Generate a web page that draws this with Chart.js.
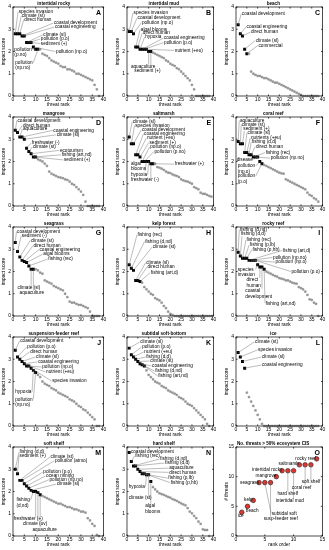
<!DOCTYPE html>
<html lang="en">
<head>
<meta charset="UTF-8">
<title>Threat rank vs impact score</title>
<script src="https://cdn.jsdelivr.net/npm/chart.js@4"></script>
<style>
    html, body { margin: 0; padding: 0; background: #fff; }
    #fig { position: relative; width: 329px; height: 550px; overflow: hidden; }
    #fig canvas { position: absolute; }
</style>
</head>
<body>
<div id="fig"></div>
<script>
// ---- axis ticks ----
const rankTicks = [0, 5, 10, 15, 20, 25, 30, 35, 40];
const scoreTicks = [0, 1, 2, 3, 4];
const orderTicks = [0, 5, 10, 15];

// ---- impact scores by threat rank (rank 1 first) ----
const rockyScores = [2.8, 2.8, 2.8, 2.7, 2.7, 2.4, 2.4, 2.4, 2.2, 2.1, 2.1, 2.1, 1.9, 1.85, 1.8, 1.7, 1.6, 1.55, 1.5, 1.45, 1.35, 1.3, 1.3, 1.2, 1.2, 1.15, 1.1, 1.0, 1.0, 0.95, 0.9, 0.85, 0.8, 0.75, 0.7, 0.5, 0.3, 0];
const mudScores = [2.9, 2.9, 2.8, 2.2, 2.2, 2.1, 2.1, 2.1, 2.1, 2.0, 2.0, 1.95, 1.9, 1.85, 1.8, 1.75, 1.7, 1.6, 1.55, 1.45, 1.4, 1.35, 1.25, 1.2, 1.1, 1.0, 0.9, 0.8, 0.7, 0.5, 0.3, 0, 0, 0, 0, 0, 0, 0];
const beachScores = [3.2, 2.8, 2.7, 2.1, 1.9, 1.9, 1.1, 1.0, 0.95, 0.9, 0.9, 0.85, 0.8, 0.8, 0.75, 0.7, 0.65, 0.6, 0.6, 0.55, 0.5, 0.45, 0.4, 0.35, 0.3, 0.25, 0.2, 0.15, 0.1, 0.05, 0, 0, 0, 0, 0, 0, 0, 0];
const mangroveScores = [3.4, 3.3, 3.1, 3.1, 3.0, 2.6, 2.45, 2.35, 2.2, 2.2, 2.1, 2.05, 2.0, 1.9, 1.8, 1.55, 1.45, 1.4, 1.35, 1.3, 1.28, 1.25, 1.2, 1.17, 1.1, 1.0, 0.95, 0.85, 0.75, 0.65, 0.5, 0.2, 0, 0, 0, 0, 0, 0];
const saltmarshScores = [3.1, 2.8, 2.8, 2.3, 2.3, 2.2, 2.0, 2.0, 2.0, 2.0, 1.9, 1.9, 1.9, 1.75, 1.72, 1.68, 1.62, 1.55, 1.5, 1.48, 1.42, 1.38, 1.35, 1.3, 1.2, 1.15, 1.12, 1.1, 1.05, 1.0, 0.85, 0.8, 0.75, 0.6, 0.55, 0.55, 0.5, 0.45, 0.42];
const coralScores = [2.9, 2.8, 2.8, 2.4, 2.4, 2.3, 2.3, 2.2, 2.2, 2.2, 2.0, 1.9, 1.85, 1.8, 1.75, 1.7, 1.65, 1.6, 1.55, 1.5, 1.47, 1.45, 1.2, 1.15, 1.1, 1.05, 1.0, 0.95, 0.9, 0.85, 0.8, 0.75, 0.6, 0.5, 0.45, 0.35, 0.3, 0.2];
const seagrassScores = [3.3, 2.9, 2.65, 2.5, 2.45, 2.4, 2.25, 2.1, 2.1, 2.1, 2.05, 1.95, 1.9, 1.6, 1.55, 1.5, 1.45, 1.35, 1.3, 1.25, 1.2, 1.15, 1.0, 0.85, 0.65, 0.6, 0.6, 0.55, 0.5, 0.5, 0.45, 0.4, 0.35, 0.2, 0, 0, 0, 0];
const kelpScores = [2.3, 2.15, 2.05, 1.6, 1.6, 1.55, 1.5, 1.3, 1.2, 1.1, 1.0, 0.95, 0.8, 0.75, 0.7, 0.6, 0.45, 0.35, 0.2, 0.1, 0.05, 0, 0, 0, 0, 0, 0, 0, 0, 0, 0, 0, 0, 0, 0, 0, 0, 0, 0];
const reefScores = [2.87, 2.7, 2.6, 2.6, 2.6, 2.5, 2.5, 2.5, 2.5, 2.3, 2.2, 2.2, 2.1, 2.0, 1.95, 1.9, 1.85, 1.8, 1.77, 1.7, 1.68, 1.65, 1.6, 1.6, 1.55, 1.5, 1.47, 1.45, 1.3, 1.25, 1.2, 1.1, 0.95, 0.75, 0.72, 0.6, 0.55, 0];
const suspScores = [3.4, 3.1, 3.0, 2.9, 2.8, 2.7, 2.7, 2.6, 2.5, 2.4, 2.3, 2.2, 2.0, 1.9, 1.85, 1.8, 1.7, 1.65, 1.6, 1.5, 1.45, 1.4, 1.35, 1.3, 1.2, 1.15, 1.1, 1.0, 0.9, 0.85, 0.75, 0.7, 0.6, 0.5, 0.4, 0.3, 0, 0];
const subtidalScores = [3.5, 3.2, 3.1, 3.0, 2.9, 2.8, 2.75, 2.7, 2.5, 2.3, 2.2, 2.1, 2.0, 1.95, 1.9, 1.8, 1.75, 1.7, 1.6, 1.55, 1.5, 1.45, 1.4, 1.3, 1.25, 1.2, 1.1, 1.0, 0.95, 0.9, 0.8, 0.7, 0.6, 0.5, 0.4, 0.3, 0.1, 0];
const iceScores = [3.3, 3.1, 2.9, 2.6, 1.5, 1.3, 1.1, 0.9, 0.7, 0.5, 0.3, 0.1, 0, 0, 0, 0, 0, 0, 0, 0, 0, 0, 0, 0, 0, 0, 0, 0, 0, 0, 0, 0, 0, 0, 0, 0, 0, 0];
const softShelfScores = [3.0, 2.8, 2.5, 2.5, 2.35, 2.25, 2.15, 2.05, 2.0, 2.0, 1.95, 1.85, 1.8, 1.75, 1.7, 1.65, 1.6, 1.55, 1.5, 1.45, 1.45, 1.4, 1.35, 1.3, 1.3, 1.25, 1.2, 1.2, 1.15, 1.1, 1.1, 1.05, 0.8, 0.7, 0.55, 0.45, 0.05, 0];
const hardShelfScores = [3.75, 3.35, 3.15, 3.15, 3.0, 2.9, 2.8, 2.8, 2.75, 2.75, 2.45, 2.2, 2.1, 2.0, 1.92, 1.88, 1.85, 1.8, 1.76, 1.72, 1.66, 1.62, 1.58, 1.52, 1.47, 1.42, 1.38, 1.25, 1.1, 1.02, 0.9, 0.8, 0.65, 0.55, 0.3, 0.27, 0.27, 0];

// ---- named top threats (black points), in rank order ----
const rockyThreats = ['species invasion', 'climate (st)', 'direct human', 'coastal development', 'coastal engineering', 'climate (sl)', 'pollution (p.o)', 'sediment (+)', 'pollution (np.o)', 'pollution\n(p.no)', 'pollution\n(np.no)'];
const mudThreats = ['species invasion', 'coastal development', 'pollution (np.o)', 'algal blooms', 'direct human', 'hypoxia', 'coastal engineering', 'pollution (p.o)', 'nutrient (+eu)', 'aquaculture', 'sediment (+)'];
const beachThreats = ['coastal development', 'coastal engineering', 'direct human', 'climate (sl)', 'commercial'];
const mangroveThreats = ['coastal development', 'direct human', 'aquaculture', 'coastal engineering', 'climate (sl)', 'freshwater (-)', 'climate (st)', 'ecotourism', 'fishing (art,nd)', 'sediment (+)'];
const saltmarshThreats = ['climate (sl)', 'species invasion', 'coastal development', 'coastal engineering', 'nutrient (+eu)', 'sediment (+)', 'pollution (np.o)', 'pollution (p.no)', 'algal\nblooms', 'hypoxia', 'freshwater (-)', 'freshwater (+)'];
const coralThreats = ['aquaculture', 'climate (st)', 'sediment (+)', 'climate (sl)', 'nutrients (+eu)', 'fishing (d,d)', 'direct human', 'fishing (rec)', 'pollution (np.no)', 'disease', 'pollution\n(np.o)', 'pollution\n(p.o)'];
const seagrassThreats = ['coastal development', 'sediment (-)', 'climate (st)', 'direct human', 'coastal engineering', 'algal blooms', 'fishing (rec)', 'climate (sl)', 'aquaculture'];
const kelpThreats = ['fishing (rec)', 'fishing (d,nd)', 'climate (st)', 'climate (sl)', 'direct human', 'fishing (art,d)'];
const reefThreats = ['fishing (d,nd)', 'fishing (d,d)', 'fishing (rec)', 'fishing (p,lb)', 'fishing (p,hb)', 'fishing (art,d)', 'pollution (np.no)', 'pollution (np.o)', 'pollution (p.o)', 'species\ninvasion', 'direct\nhuman', 'coastal\ndevelopment', 'fishing (art,nd)'];
const suspThreats = ['coastal development', 'pollution (p.o)', 'direct human', 'climate (sl)', 'coastal engineering', 'pollution (np.o)', 'nutrient (+eu)', 'species invasion', 'hypoxia', 'pollution\n(np.no)'];
const subtidalThreats = ['climate (sl)', 'pollution (p.o)', 'nutrient (+eu)', 'fishing (d,d)', 'climate (st)', 'coastal engineering', 'fishing (d,nd)', 'fishing (art,nd)'];
const iceThreats = ['climate (st)', 'species invasion', 'climate (sl)', 'coastal engineering'];
const softShelfThreats = ['fishing (d,d)', 'sediment (+)', 'climate (st)', 'pollution (atmo)', 'pollution (p.o)', 'ocean mining', 'pollution (np.no)', 'climate (sl)', 'fishing\n(d,nd)', 'freshwater (+)', 'climate (uv)', 'aquaculture'];
const hardShelfThreats = ['coastal development', 'fishing (rec)', 'fishing (d,nd)', 'fishing (d,d)', 'aquaculture', 'direct human', 'fishing (p,lb)', 'fishing (p,hb)', 'hypoxia', 'climate (st)', 'algal\nblooms'];

// ---- panel O: no. of threats above 50% of ecosystem CIS ----
const ecoRank = [1, 2, 3, 4, 5, 6, 7, 8, 9, 10, 11, 12, 13, 14];
const ecoNames = ['ice', 'beach', 'kelp', 'seagrass', 'subtidal soft', 'susp-feeder reef', 'mangrove', 'intertidal rocky', 'hard shelf', 'intertidal mud', 'saltmarsh', 'coral reef', 'soft shelf', 'rocky reef'];
const ecoThreatCount = [4, 5, 6, 9, 9, 9, 10, 11, 11, 11, 12, 12, 12, 13];

// ---- label placement (data units: left edge x, first line y) ----
const rockyTagPos = [[2.5, 3.8], [3.9, 3.6], [5.0, 3.43], [18.1, 3.28], [18.5, 3.1], [13.4, 2.75], [12.3, 2.56], [12.3, 2.36], [19, 2.0], [0.6, 2.1], [1, 1.5]];
const mudTagPos = [[3.05, 3.73], [4.9, 3.5], [6.9, 3.3], [6.4, 3.0], [7.3, 2.83], [8.4, 2.65], [17.1, 2.6], [17.1, 2.4], [22.1, 2.05], [1.8, 1.32], [3.4, 1.14]];
const beachTagPos = [[2.7, 3.7], [4.9, 3.1], [6.9, 2.87], [9.2, 2.5], [10.4, 2.27]];
const mangroveTagPos = [[2.0, 3.85], [4.4, 3.62], [4.4, 3.46], [17.8, 3.4], [19.3, 3.2], [8.3, 2.83], [8.8, 2.65], [20.7, 2.5], [21.5, 2.3], [22.5, 2.07]];
const saltmarshTagPos = [[2.7, 3.8], [3.8, 3.62], [6.9, 3.43], [7.9, 3.25], [9.2, 3.05], [10.4, 2.86], [10.7, 2.65], [12.7, 2.45], [1.8, 1.9], [1.8, 1.4], [1.8, 1.17], [22.1, 1.88]];
const coralTagPos = [[1.8, 3.85], [2.7, 3.67], [3.4, 3.47], [5.3, 3.28], [6.9, 3.07], [7.3, 2.87], [9.2, 2.68], [13.7, 2.4], [16, 2.15], [0.3, 2.1], [0.8, 1.8], [0.8, 1.35]];
const seagrassTagPos = [[1.8, 3.8], [3.9, 3.6], [7.9, 3.4], [9.1, 3.16], [11.7, 2.98], [13.4, 2.78], [15.6, 2.56], [2.0, 1.25], [2.9, 1.05]];
const kelpTagPos = [[4.9, 3.65], [8.4, 3.35], [11.9, 3.1], [8.9, 2.4], [9.5, 2.2], [11, 1.95]];
const reefTagPos = [[1.8, 3.88], [2.3, 3.68], [4.9, 3.43], [6.4, 3.2], [7.6, 2.98], [21.7, 2.95], [17.1, 2.63], [18.3, 2.42], [25.6, 2.0], [0.8, 2.1], [4.9, 1.62], [4.3, 1.13], [13.7, 0.57]];
const suspTagPos = [[3.2, 3.82], [6.3, 3.55], [7.6, 3.33], [10.2, 3.1], [11.1, 2.88], [12.9, 2.65], [14.6, 2.43], [17.3, 2.02], [1, 1.53], [1, 1.2]];
const subtidalTagPos = [[6.1, 3.77], [7.0, 3.55], [8.0, 3.33], [8.9, 3.1], [10.7, 2.92], [11.6, 2.7], [13.0, 2.47], [14.4, 2.25]];
const iceTagPos = [[8.8, 3.78], [10.2, 3.42], [12.0, 3.1], [12.0, 2.74]];
const softShelfTagPos = [[2.9, 3.77], [2.9, 3.62], [16.6, 3.55], [18.5, 3.38], [13.4, 2.87], [14.6, 2.7], [16.1, 2.53], [19.3, 2.33], [1.5, 1.62], [0.3, 0.77], [4.4, 0.57], [8.6, 0.3]];
const hardShelfTagPos = [[1.8, 3.77], [3.8, 3.6], [15.3, 3.46], [17.6, 3.28], [19.5, 3.05], [19.5, 2.86], [19.1, 2.6], [20.2, 2.4], [0.8, 2.22], [0.8, 1.7], [8.4, 1.35]];
const ecoTagPos = [[0.3, 3.4], [1.7, 4.3], [1.4, 6.2], [0.7, 9.0], [6.2, 3.8], [4.8, 2.9], [3.4, 10.1], [2.8, 11.2], [7.2, 7.1], [6.9, 5.9], [7.4, 12.2], [9.7, 8.2], [11.4, 9.1], [10.3, 13.0]];

const FONT = '"Liberation Sans", Arial, sans-serif';

const panels = [
    { title: 'intertidal rocky', letter: 'A', scores: rockyScores, names: rockyThreats, tags: rockyTagPos },
    { title: 'intertidal mud', letter: 'B', scores: mudScores, names: mudThreats, tags: mudTagPos },
    { title: 'beach', letter: 'C', scores: beachScores, names: beachThreats, tags: beachTagPos },
    { title: 'mangrove', letter: 'D', scores: mangroveScores, names: mangroveThreats, tags: mangroveTagPos },
    { title: 'saltmarsh', letter: 'E', scores: saltmarshScores, names: saltmarshThreats, tags: saltmarshTagPos },
    { title: 'coral reef', letter: 'F', scores: coralScores, names: coralThreats, tags: coralTagPos },
    { title: 'seagrass', letter: 'G', scores: seagrassScores, names: seagrassThreats, tags: seagrassTagPos },
    { title: 'kelp forest', letter: 'H', scores: kelpScores, names: kelpThreats, tags: kelpTagPos },
    { title: 'rocky reef', letter: 'I', scores: reefScores, names: reefThreats, tags: reefTagPos },
    { title: 'suspension-feeder reef', letter: 'J', scores: suspScores, names: suspThreats, tags: suspTagPos },
    { title: 'subtidal soft-bottom', letter: 'K', scores: subtidalScores, names: subtidalThreats, tags: subtidalTagPos },
    { title: 'ice', letter: 'L', scores: iceScores, names: iceThreats, tags: iceTagPos },
    { title: 'soft shelf', letter: 'M', scores: softShelfScores, names: softShelfThreats, tags: softShelfTagPos },
    { title: 'hard shelf', letter: 'N', scores: hardShelfScores, names: hardShelfThreats, tags: hardShelfTagPos },
    { title: 'No. threats > 50% ecosystem CIS', letter: 'O', eco: true, names: ecoNames, tags: ecoTagPos }
];

const fig = document.getElementById('fig');
const plotLeft = [13, 127, 236];
const plotRight = [104, 214, 323];
const titleShift = [-4.5, -6.5, -6];

// text labels with leader lines, frame, inward ticks, title and panel letter
function extrasPlugin(p, col, xt, yt) {
    return {
        id: 'extras',
        afterDatasetsDraw(chart) {
            const ctx = chart.ctx, a = chart.chartArea;
            const xs = chart.scales.x, ys = chart.scales.y;
            ctx.save();
            // frame
            ctx.strokeStyle = '#000';
            ctx.lineWidth = 0.7;
            ctx.strokeRect(a.left, a.top, a.right - a.left, a.bottom - a.top);
            ctx.beginPath();
            xt.forEach(v => {
                const x = xs.getPixelForValue(v);
                ctx.moveTo(x, a.bottom); ctx.lineTo(x, a.bottom - 1.6);
                ctx.moveTo(x, a.top); ctx.lineTo(x, a.top + 1.6);
            });
            yt.forEach(v => {
                const y = ys.getPixelForValue(v);
                ctx.moveTo(a.left, y); ctx.lineTo(a.left + 1.6, y);
                ctx.moveTo(a.right, y); ctx.lineTo(a.right - 1.6, y);
            });
            ctx.stroke();

            // labels and leaders
            ctx.font = '4.7px ' + FONT;
            ctx.textBaseline = 'middle';
            ctx.textAlign = 'left';
            const lh = 5.4;
            p.names.forEach((name, i) => {
                const pos = p.tags[i];
                if (!pos) return;
                const lines = name.split('\n');
                const w = Math.max(...lines.map(l => ctx.measureText(l).width));
                const tx = xs.getPixelForValue(pos[0]);
                const ty = ys.getPixelForValue(pos[1]);
                const top = ty - lh / 2, bottom = ty - lh / 2 + lh * lines.length;
                const mx = xs.getPixelForValue(p.eco ? ecoRank[i] : i + 1);
                const my = ys.getPixelForValue(p.eco ? ecoThreatCount[i] : p.scores[i]);
                let sx, sy;
                if (mx < tx - 1) { sx = tx - 0.6; sy = ty; }
                else if (mx > tx + w + 1) { sx = tx + w + 0.6; sy = ty; }
                else { sx = Math.min(Math.max(mx, tx + 1), tx + w - 1); sy = my < top ? top + 0.6 : bottom - 0.6; }
                ctx.strokeStyle = '#6a6a6a';
                ctx.lineWidth = 0.45;
                ctx.beginPath();
                ctx.moveTo(sx, sy);
                ctx.lineTo(mx, my);
                ctx.stroke();
                ctx.fillStyle = '#000';
                lines.forEach((l, k) => ctx.fillText(l, tx, ty + k * lh));
            });

            // title
            ctx.font = 'bold 4.6px ' + FONT;
            ctx.textAlign = 'center';
            ctx.fillText(p.title, (a.left + a.right) / 2 + titleShift[col], 4);
            // panel letter
            ctx.font = 'bold 7px ' + FONT;
            ctx.textAlign = 'right';
            ctx.fillText(p.letter, a.right - 2.5, a.top + 6.5);
            ctx.restore();
        }
    };
}

panels.forEach((p, idx) => {
    const col = idx % 3, row = Math.floor(idx / 3);
    const left = plotLeft[col] - 13;
    const width = plotRight[col] + 4 - left;
    const cv = document.createElement('canvas');
    cv.width = width;
    cv.height = 110;
    cv.style.left = left + 'px';
    cv.style.top = (row * 110) + 'px';
    cv.style.width = width + 'px';
    cv.style.height = '110px';
    fig.appendChild(cv);

    let datasets, xt, yt, xMax, yMax, xTitle, yTitle;
    if (p.eco) {
        xt = orderTicks; yt = orderTicks; xMax = 15; yMax = 15;
        xTitle = 'rank order'; yTitle = '# threats';
        datasets = [{
            data: ecoRank.map((r, i) => ({ x: r, y: ecoThreatCount[i] })),
            pointStyle: 'circle', pointRadius: 2.3,
            backgroundColor: '#e3352f', borderColor: '#222', borderWidth: 0.6, clip: 6
        }];
    } else {
        xt = rankTicks; yt = scoreTicks; xMax = 40; yMax = 4;
        xTitle = 'threat rank'; yTitle = 'impact score';
        const n = p.names.length;
        const pts = p.scores.map((s, i) => ({ x: i + 1, y: s }));
        datasets = [
            { data: pts.slice(n), pointStyle: 'rect', pointRadius: 1.25,
              backgroundColor: '#a0a0a0', borderColor: '#707070', borderWidth: 0.4, clip: 6 },
            { data: pts.slice(0, n), pointStyle: 'rect', pointRadius: 2.1,
              backgroundColor: '#000', borderColor: '#000', borderWidth: 0, clip: 6 }
        ];
    }

    const tickFont = { size: 5, family: FONT };
    const titleFont = { size: 4.8, family: FONT };
    new Chart(cv, {
        type: 'scatter',
        data: { datasets },
        options: {
            responsive: false,
            animation: false,
            devicePixelRatio: 1,
            events: [],
            layout: { padding: { top: 7, right: 4, left: 0, bottom: 0 } },
            plugins: { legend: { display: false }, tooltip: { enabled: false } },
            scales: {
                x: {
                    type: 'linear', min: 0, max: xMax,
                    afterBuildTicks: s => { s.ticks = xt.map(v => ({ value: v })); },
                    grid: { display: false, drawTicks: false },
                    border: { display: false },
                    ticks: { font: tickFont, color: '#000', padding: 1, maxRotation: 0, minRotation: 0, autoSkip: false },
                    title: { display: true, text: xTitle, font: titleFont, color: '#000', padding: { top: 0, bottom: 2 } },
                    afterFit: s => { s.height = 14; }
                },
                y: {
                    type: 'linear', min: 0, max: yMax,
                    afterBuildTicks: s => { s.ticks = yt.map(v => ({ value: v })); },
                    grid: { display: false, drawTicks: false },
                    border: { display: false },
                    ticks: { font: tickFont, color: '#000', padding: 2, autoSkip: false },
                    title: { display: true, text: yTitle, font: titleFont, color: '#000', padding: { top: 1, bottom: 0 } },
                    afterFit: s => { s.width = 13; }
                }
            }
        },
        plugins: [extrasPlugin(p, col, xt, yt)]
    });
});
</script>
</body>
</html>
